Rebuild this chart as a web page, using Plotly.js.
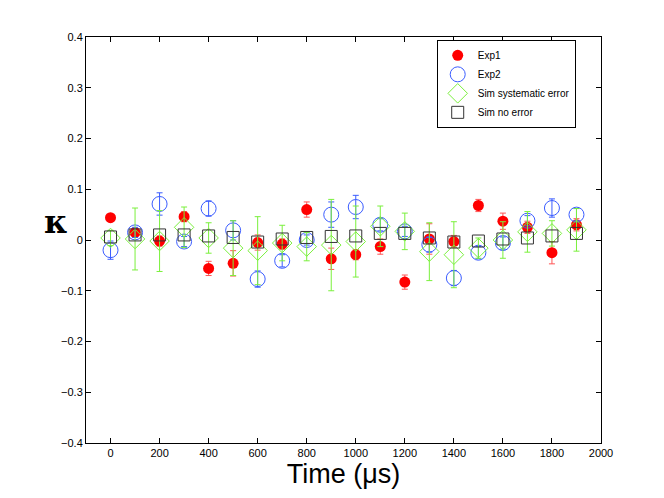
<!DOCTYPE html>
<html>
<head>
<meta charset="utf-8">
<script src="https://cdn.plot.ly/plotly-3.0.1.min.js"></script>
<style>
  body { margin: 0; background: #fff; }
  #chart { width: 664px; height: 498px; }
</style>
</head>
<body>
<div id="chart"></div>
<script>
// time points (microseconds)
var times = [0, 100, 200, 300, 400, 500, 600, 700, 800, 900,
             1000, 1100, 1200, 1300, 1400, 1500, 1600, 1700, 1800, 1900];

var exp1 = [0.044, 0.015, -0.002, 0.046, -0.056, -0.046, -0.005, -0.008, 0.060, -0.037,
            -0.029, -0.013, -0.083, 0.002, -0.003, 0.068, 0.037, 0.025, -0.025, 0.030];
var exp1Err = [0.005, 0.008, 0.010, 0.010, 0.014, 0.025, 0.015, 0.010, 0.015, 0.021,
               0.010, 0.015, 0.014, 0.030, 0.012, 0.012, 0.016, 0.012, 0.022, 0.012];

var exp2 = [-0.020, 0.015, 0.071, -0.003, 0.062, 0.019, -0.077, -0.041, 0.000, 0.050,
            0.065, 0.030, 0.017, -0.009, -0.075, -0.025, -0.006, 0.038, 0.063, 0.050];
var exp2Err = [0.018, 0.010, 0.022, 0.010, 0.015, 0.019, 0.016, 0.012, 0.010, 0.025,
               0.023, 0.012, 0.010, 0.015, 0.015, 0.012, 0.012, 0.010, 0.018, 0.012];

var simSys = [0.004, 0.002, -0.002, 0.025, 0.004, -0.016, -0.021, -0.006, -0.013, -0.010,
              -0.003, 0.027, 0.017, -0.023, -0.029, -0.016, 0.000, 0.016, 0.013, 0.020];
var simSysErr = [0.015, 0.061, 0.060, 0.040, 0.030, 0.054, 0.067, 0.035, 0.028, 0.090,
                 0.070, 0.040, 0.036, 0.057, 0.065, 0.020, 0.036, 0.040, 0.025, 0.042];

var simNo = [0.006, 0.010, 0.010, 0.010, 0.008, 0.005, -0.004, 0.002, 0.005, 0.007,
             0.008, 0.013, 0.013, 0.004, -0.004, -0.002, 0.002, 0.004, 0.008, 0.013];

var red = '#ff0000', blue = '#3a5cff', green = '#7af03c', grey = '#333333';

var data = [
  {
    x: times, y: exp1, name: 'Exp1', type: 'scatter', mode: 'markers',
    marker: { symbol: 'circle', size: 11, color: red },
    error_y: { type: 'data', array: exp1Err, color: '#ff5555', thickness: 1, width: 3 }
  },
  {
    x: times, y: exp2, name: 'Exp2', type: 'scatter', mode: 'markers',
    marker: { symbol: 'circle-open', size: 15, color: blue, line: { width: 1 } },
    error_y: { type: 'data', array: exp2Err, color: blue, thickness: 1, width: 3 }
  },
  {
    x: times, y: simSys, name: 'Sim systematic error', type: 'scatter', mode: 'markers',
    marker: { symbol: 'diamond-open', size: 15, color: green, line: { width: 1 } },
    error_y: { type: 'data', array: simSysErr, color: green, thickness: 1, width: 3 }
  },
  {
    x: times, y: simNo, name: 'Sim no error', type: 'scatter', mode: 'markers',
    marker: { symbol: 'square-open', size: 12, color: grey, line: { width: 1 } }
  }
];

var axisFont = { family: 'Liberation Sans, Arial, sans-serif', size: 11, color: '#000' };

var layout = {
  width: 664, height: 498,
  margin: { l: 86, r: 63, t: 37, b: 55 },
  paper_bgcolor: '#fff', plot_bgcolor: '#fff',
  font: axisFont,
  showlegend: true,
  legend: {
    x: 0.681, y: 0.993, xanchor: 'left', yanchor: 'top',
    bordercolor: '#000', borderwidth: 1, bgcolor: '#fff',
    font: { family: 'Liberation Sans, Arial, sans-serif', size: 10, color: '#000' },
    entrywidth: 150, entrywidthmode: 'pixels',
    tracegroupgap: 0
  },
  xaxis: {
    range: [-100, 2000], dtick: 200, tick0: 0,
    ticks: 'inside', ticklen: 5, tickcolor: '#000',
    showline: true, linecolor: '#000', linewidth: 1, mirror: 'allticks',
    showgrid: false, zeroline: false,
    tickfont: axisFont,
    title: { text: 'Time (μs)', font: { family: 'Liberation Sans, Arial, sans-serif', size: 27, color: '#000' }, standoff: 1 }
  },
  yaxis: {
    range: [-0.4, 0.4], dtick: 0.1, tick0: 0,
    ticks: 'inside', ticklen: 5, tickcolor: '#000',
    showline: true, linecolor: '#000', linewidth: 1, mirror: 'allticks',
    showgrid: false, zeroline: false,
    tickfont: axisFont
  },
  annotations: [{
    text: '<b>κ</b>', xref: 'paper', yref: 'paper',
    x: -0.058, y: 0.545, xanchor: 'center', yanchor: 'middle',
    showarrow: false,
    font: { family: 'DejaVu Serif, serif', size: 32, color: '#000' }
  }]
};

Plotly.newPlot('chart', data, layout, { displayModeBar: false, responsive: false });
</script>
</body>
</html>
